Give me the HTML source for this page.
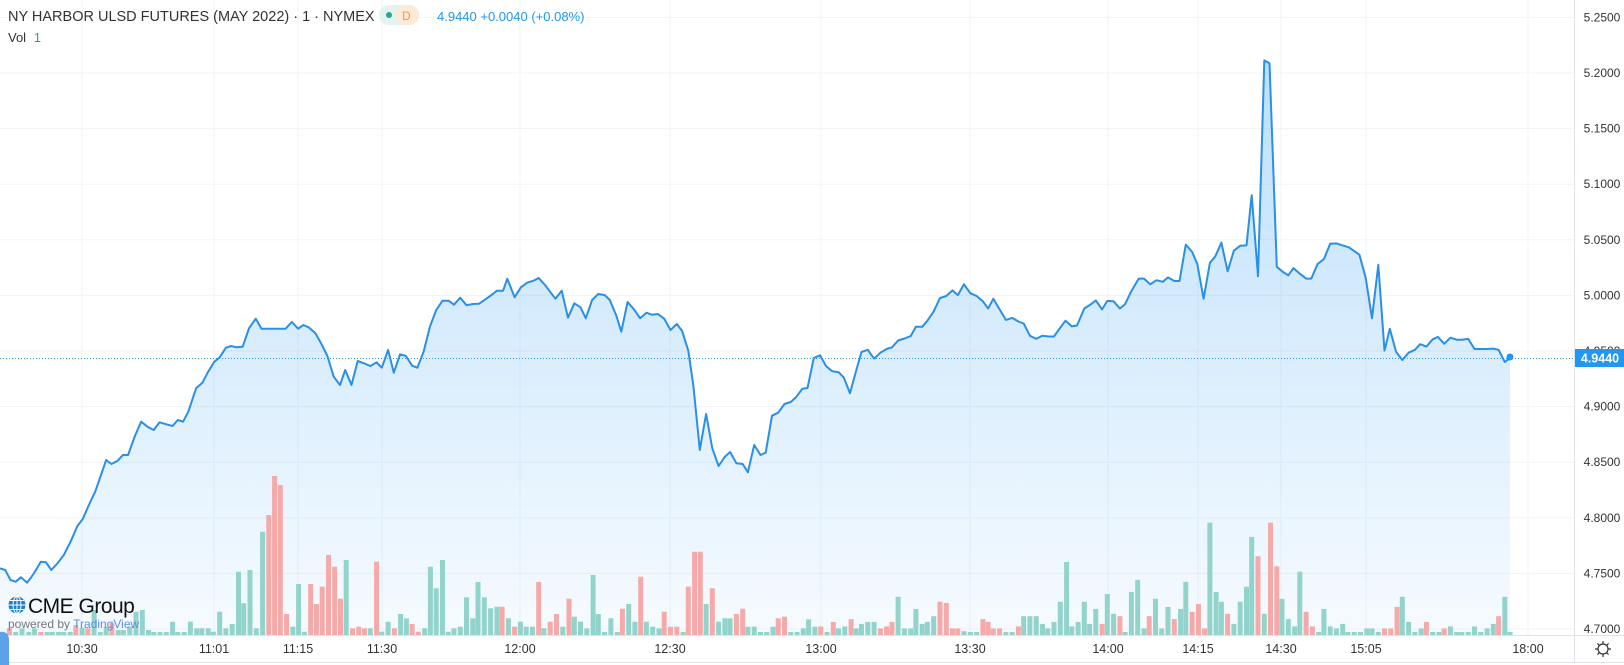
<!DOCTYPE html>
<html><head><meta charset="utf-8"><style>
html,body{margin:0;padding:0;background:#fff;width:1624px;height:665px;overflow:hidden;font-family:"Liberation Sans",sans-serif}
svg{position:absolute;left:0;top:0}
</style></head><body>
<svg id="s" width="1624" height="665" xmlns="http://www.w3.org/2000/svg">
<defs><linearGradient id="g" x1="0" y1="60" x2="0" y2="635" gradientUnits="userSpaceOnUse">
<stop offset="0" stop-color="#2196f3" stop-opacity="0.30"/><stop offset="1" stop-color="#2196f3" stop-opacity="0.04"/></linearGradient></defs>
<g id="grid" stroke="#f0f3fa" stroke-width="1"></g>
<path id="area" fill="url(#g)"/>
<g id="vol"></g>
<path id="line" fill="none" stroke="#2a8fe6" stroke-width="2" stroke-linejoin="round"/>
<line x1="0" y1="358.5" x2="1574" y2="358.5" stroke="#2196f3" stroke-width="1" stroke-dasharray="1,2"/>
<circle cx="1510" cy="357" r="3.5" fill="#2196f3"/>
<line x1="0" y1="635.5" x2="1624" y2="635.5" stroke="#e0e3eb"/>
<line x1="0" y1="662.5" x2="1624" y2="662.5" stroke="#e0e3eb"/>
<line x1="1574.5" y1="0" x2="1574.5" y2="663" stroke="#e0e3eb"/>
<g id="plab" font-size="12" fill="#333" text-anchor="middle"></g>
<g id="tlab" font-size="12.5" fill="#333" text-anchor="middle"></g>
<rect x="1575" y="349" width="49" height="18" fill="#2196f3"/>
<text x="1600" y="362.5" font-size="12.5" font-weight="bold" fill="#fff" text-anchor="middle">4.9440</text>
<g transform="translate(1603,649)" fill="none" stroke="#333" stroke-width="1.2"><circle r="5"/><path d="M0-8V-5M0 5V8M-8 0H-5M5 0H8M-5.6-5.6L-3.5-3.5M3.5 3.5L5.6 5.6M-5.6 5.6L-3.5 3.5M3.5-3.5L5.6-5.6"/></g>
<text x="8" y="21" font-size="14.5" fill="#333">NY HARBOR ULSD FUTURES (MAY 2022) · 1 · NYMEX</text>
<rect x="379" y="5" width="40" height="20" rx="10" fill="#e3f4ef"/>
<rect x="396" y="5" width="23" height="20" rx="10" fill="#fde9d6"/>
<circle cx="389" cy="15" r="3" fill="#26a69a"/>
<text x="402" y="20" font-size="12" fill="#f39c3c">D</text>
<text x="437" y="21" font-size="13" fill="#2196f3">4.9440 +0.0040 (+0.08%)</text>
<text x="8" y="42" font-size="13" fill="#333">Vol <tspan fill="#26a69a" dx="4">1</tspan></text>
<g transform="translate(17,605)"><circle r="8.5" fill="#1a7fcf"/><path d="M-8.5 0H8.5M0-8.5V8.5M-7 -4.5H7M-7 4.5H7" stroke="#fff" stroke-width="1"/><ellipse rx="4" ry="8.5" fill="none" stroke="#fff" stroke-width="1"/></g>
<text x="28" y="613" font-size="21" fill="#111" letter-spacing="-0.5">CME Group</text>
<text x="8" y="628" font-size="12" fill="#777">powered by <tspan fill="#5b8ee0">TradingView</tspan></text>
<path d="M0 632H2Q9 632 9 640V665H0Z" fill="#5ba3e8"/>
</svg>
<script>
var s=document.getElementById('s'),NS='http://www.w3.org/2000/svg';
function el(p,t,a,txt){var e=document.createElementNS(NS,t);for(var k in a)e.setAttribute(k,a[k]);if(txt)e.textContent=txt;p.appendChild(e);return e;}
var grid=document.getElementById('grid'),pl=document.getElementById('plab'),tl=document.getElementById('tlab');
var prices=['4.7000','4.7500','4.8000','4.8500','4.9000','4.9500','5.0000','5.0500','5.1000','5.1500','5.2000','5.2500'];
for(var i=0;i<12;i++){var y=629-i*55.6;el(grid,'line',{x1:0,x2:1574,y1:y.toFixed(1),y2:y.toFixed(1)});el(pl,'text',{x:1602,y:(y+4).toFixed(1)},prices[i]);}
var tx=[[82,'10:30'],[214,'11:01'],[298,'11:15'],[382,'11:30'],[520,'12:00'],[670,'12:30'],[821,'13:00'],[970,'13:30'],[1108,'14:00'],[1198,'14:15'],[1281,'14:30'],[1366,'15:05'],[1528,'18:00']];
tx.forEach(function(t){el(grid,'line',{x1:t[0],x2:t[0],y1:0,y2:635});el(tl,'text',{x:t[0],y:653},t[1]);});
var z9=[0,1105,10,1110,20,1140,30,1145,40,1132,52,1148,65,1120,78,1085,88,1087,98,1110,110,1090,122,1065,135,1025,148,978,158,958,170,915,182,875,192,830,203,780,213,792,225,782,235,765,245,765,258,708,270,665,282,680,294,690,305,667,318,673,330,678,340,660,350,665,360,635,375,565,387,548,398,515,410,485,420,472,432,443,442,438,452,442,464,440,476,385,489,356,500,386,512,386,524,386,536,386,546,386,558,366,570,386,580,375,590,382,603,400,614,430,626,468,638,530,650,555,660,510,672,555,684,483,696,490,708,498,720,487,730,503,742,450,753,518,765,463,776,468,788,497,798,503,810,455,822,380,834,330,846,302,858,302,868,314,880,293,892,316,904,312,916,311,928,298,940,285,950,272,962,272,970,236,984,292,996,262,1008,248,1020,242,1030,234,1042,255,1054,280,1062,296,1074,272,1086,353,1098,310,1110,322,1120,355,1132,300,1144,282,1156,285,1166,300,1178,345,1188,395,1200,306,1212,328,1224,355,1236,338,1246,344,1258,342,1270,356,1282,390,1294,372,1304,392,1316,452,1326,560,1338,750,1350,642,1362,745,1374,798,1386,770,1396,756,1408,790,1420,792,1430,817,1442,735,1454,765,1464,758,1476,647,1488,638,1500,612,1512,606,1522,592,1534,566,1544,564,1556,474,1568,466];
var z10=[0,885,8,885,18,815,30,805,42,830,54,843,66,845,76,858,88,897,100,840,110,795,122,790,134,812,146,797,158,788,168,784,180,767,192,762,204,756,214,733,226,733,236,718,248,695,260,662,272,657,284,643,294,655,306,628,318,650,330,657,342,670,352,688,362,664,374,690,386,716,398,711,410,720,420,725,432,755,444,763,456,755,468,757,478,757,490,735,500,718,512,732,522,730,536,688,548,678,558,668,570,690,580,669,592,670,604,688,614,677,626,645,640,614,650,614,662,628,674,618,686,622,696,611,708,620,718,620,730,530,742,548,752,578,764,664,776,575,786,560,798,525,810,596,822,545,834,533,846,532,856,408,868,608,880,75,890,82,904,585,916,598,926,606,936,588,948,602,960,614,970,614,982,578,994,566,1006,528,1018,527,1030,532,1042,537,1052,546,1062,555,1074,612,1086,712,1098,580,1110,792,1120,738,1132,795,1144,815,1156,797,1168,790,1178,776,1190,782,1202,764,1212,758,1224,775,1236,760,1248,765,1258,765,1270,763,1282,788,1294,788,1306,788,1318,787,1328,790,1340,820,1350,810];
var pts=[];
for(var i=0;i<z9.length;i+=2)pts.push([z9[i]/1.912,200+z9[i+1]/3]);
for(var i=0;i<z10.length;i+=2){var x=804+z10[i]/1.912;if(x>821)pts.push([x,30+z10[i+1]/2.47]);}
var d=pts.map(function(p,i){return (i?'L':'M')+p[0].toFixed(1)+' '+p[1].toFixed(1);}).join('');
document.getElementById('line').setAttribute('d',d);
document.getElementById('area').setAttribute('d',d+'L'+pts[pts.length-1][0].toFixed(1)+' 635L0 635Z');
var v9="5 1295 g 18 1285 r 30 1298 g 42 1285 g 55 1298 g 66 1285 g 78 1298 r 90 1298 g 100 1298 g 112 1298 g 122 1298 g 134 1298 g 145 1275 r 157 1283 g 168 1285 r 180 1230 g 192 1298 g 203 1280 g 214 1270 r 226 1290 g 236 1290 g 248 1280 g 260 1235 g 272 1230 g 284 1290 g 294 1298 g 306 1298 g 318 1298 g 330 1265 g 340 1298 g 352 1298 g 364 1265 g 376 1285 g 386 1285 g 398 1285 g 408 1295 g 420 1235 g 432 1285 g 444 1272 g 456 1115 g 466 1210 g 478 1110 g 490 1285 g 502 995 g 514 945 r 525 828 r 536 855 r 548 1242 r 560 1280 g 571 1152 g 582 1295 g 594 1152 r 605 1212 r 616 1160 r 628 1065 r 640 1100 r 651 1196 r 662 1080 g 674 1285 r 686 1280 r 697 1285 r 708 1285 g 720 1085 r 730 1295 g 742 1265 g 754 1285 r 766 1242 g 777 1255 g 788 1272 r 800 1295 r 812 1285 g 823 1100 g 834 1165 g 846 1080 g 857 1295 g 868 1285 g 880 1280 g 892 1192 g 904 1255 g 914 1146 g 926 1192 g 938 1225 g 950 1220 g 960 1220 r 972 1255 g 984 1280 r 995 1265 g 1006 1280 g 1018 1280 g 1030 1146 r 1040 1285 g 1052 1265 r 1064 1242 r 1076 1280 g 1088 1196 r 1098 1250 g 1110 1265 g 1122 1285 g 1134 1125 g 1144 1242 g 1156 1298 g 1168 1255 g 1180 1298 g 1190 1226 r 1202 1212 g 1214 1265 g 1225 1130 r 1236 1265 g 1248 1280 g 1260 1285 g 1270 1235 r 1282 1280 r 1294 1280 r 1306 1298 g 1316 1160 r 1328 1055 r 1339 1055 r 1350 1212 g 1362 1165 r 1374 1265 g 1386 1255 g 1396 1255 g 1408 1242 r 1420 1226 r 1430 1280 g 1442 1280 g 1454 1298 g 1466 1298 g 1478 1280 g 1488 1255 r 1500 1250 r 1512 1298 g 1524 1298 g 1536 1285 g 1546 1258 g 1558 1280 g".split(' ');
var v10="0 1455 g 8 1455 g 20 1473 r 32 1473 r 44 1488 g 56 1462 r 66 1478 g 78 1473 g 90 1455 r 100 1478 g 110 1467 g 122 1462 g 134 1462 g 146 1478 r 158 1473 r 168 1462 r 180 1400 g 192 1478 g 204 1478 g 214 1430 g 226 1467 g 236 1462 g 248 1448 g 260 1412 r 272 1415 r 284 1478 r 294 1478 r 306 1485 g 318 1488 g 330 1488 g 342 1455 r 352 1462 r 362 1478 r 374 1478 r 386 1488 g 398 1488 g 410 1473 r 420 1448 g 432 1448 g 444 1448 g 456 1467 g 466 1478 g 478 1462 g 490 1412 g 502 1314 g 512 1473 g 524 1462 g 536 1412 g 546 1467 g 558 1430 g 570 1467 r 580 1393 g 592 1442 g 604 1448 r 614 1488 g 626 1388 g 638 1358 g 650 1478 g 660 1448 r 672 1405 g 684 1478 g 696 1425 g 708 1455 r 720 1430 g 730 1363 g 742 1437 r 754 1418 r 766 1478 r 776 1217 g 788 1388 g 798 1412 g 810 1442 r 822 1467 g 834 1412 g 846 1375 g 856 1252 g 868 1300 r 880 1442 g 892 1217 r 904 1325 r 914 1405 g 926 1455 g 938 1473 g 948 1338 g 960 1437 r 972 1473 r 984 1488 g 994 1430 g 1006 1473 g 1018 1478 g 1030 1467 g 1040 1488 g 1052 1488 g 1064 1488 g 1076 1478 g 1086 1478 g 1098 1488 g 1110 1478 r 1122 1478 r 1134 1425 r 1144 1400 g 1156 1462 g 1168 1488 g 1180 1478 g 1190 1462 r 1202 1488 g 1214 1488 g 1224 1478 r 1236 1473 g 1248 1488 g 1258 1488 g 1270 1488 g 1282 1473 g 1294 1488 g 1306 1478 g 1318 1467 g 1328 1448 r 1340 1400 g 1350 1488 g".split(' ');
var vol=document.getElementById('vol');
function bar(x,y,c){if(y>632)y=632;el(vol,'rect',{x:(x-2.5).toFixed(1),y:y.toFixed(1),width:5,height:(635-y).toFixed(1),fill:c=='g'?'#92d3cc':'#f5a9a8'});}
for(var i=0;i<v9.length;i+=3)bar(+v9[i]/1.912,200+v9[i+1]/3,v9[i+2]);
for(var i=0;i<v10.length;i+=3){var x=804+v10[i]/1.912;if(x>818)bar(x,30+v10[i+1]/2.47,v10[i+2]);}
</script>
</body></html>
